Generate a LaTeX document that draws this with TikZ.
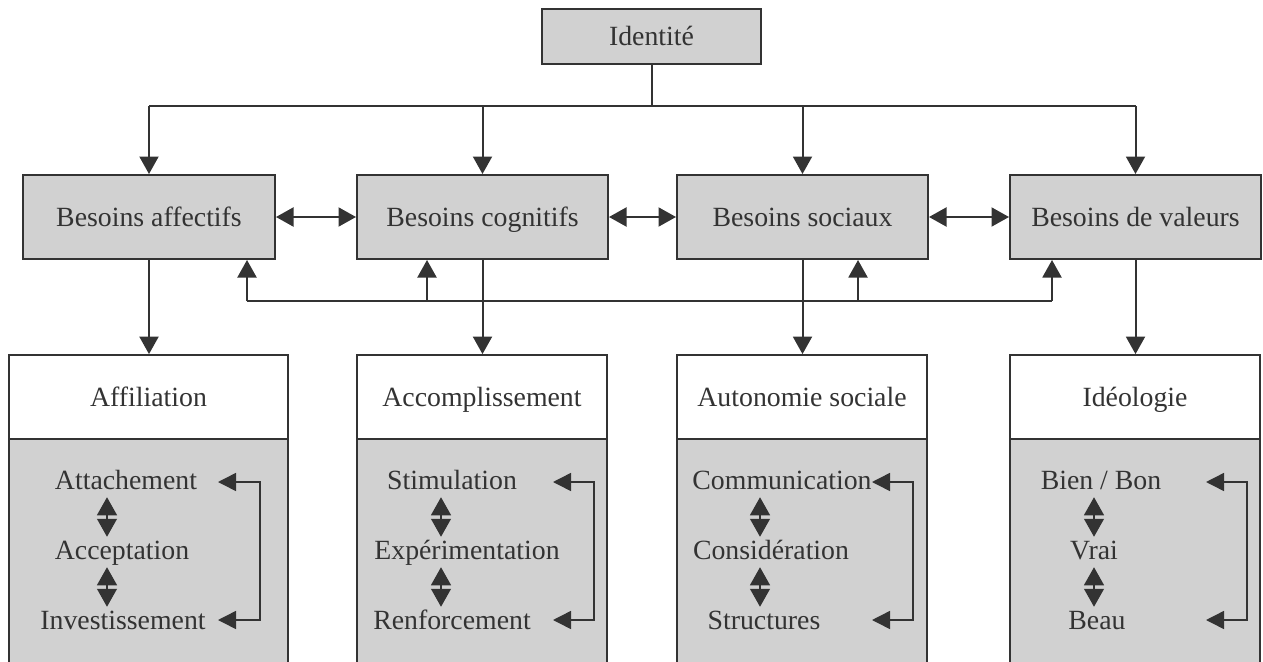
\documentclass[tikz,border=0pt]{standalone}
\usepackage{fontspec}
\setmainfont{Liberation Serif}
\usepackage{tikz}
\usetikzlibrary{arrows.meta}
\usetikzlibrary{calc}
\definecolor{ink}{HTML}{333333}
\definecolor{boxgray}{HTML}{D1D1D1}
\tikzstyle{need} = [draw=ink, fill=boxgray, rectangle, line width=2pt,
    inner sep=0pt, minimum height=84pt, minimum width=251pt]
\tikzstyle{head} = [draw=ink, fill=white, rectangle, line width=1.8pt,
    inner sep=0pt, minimum height=84pt, minimum width=250pt]
\tikzstyle{body} = [draw=ink, fill=boxgray, rectangle, line width=1.8pt,
    inner sep=0pt, minimum height=262pt, minimum width=250pt]
\tikzstyle{item} = [inner sep=0pt]
\tikzstyle{twin} = [<->, line width=1.2pt, shorten <=7pt, shorten >=3pt,
    >={Triangle[length=18pt,width=20pt]}]
\tikzstyle{back} = [<->, line width=1.5pt, >={Triangle[length=18pt,width=18pt]}]

\begin{document}
\begin{tikzpicture}[x=1pt, y=-1pt, >={Triangle[length=17.5pt,width=19pt]},
    color=ink, line width=2pt,
    every node/.style={font=\fontsize{27.8}{33}\selectfont, text=ink,
      text height=18.5pt, text depth=0pt}]
    \useasboundingbox (0,0) rectangle (1263,661);
    \clip (0,0) rectangle (1263,661);
    % top
    \node [need, minimum width=219pt, minimum height=55pt] at (651.5,36.5) (id) {Identité};
    \coordinate (bus) at (0,106);
    % besoins
    \node [need, minimum width=252pt] at (149,217) (aff) {Besoins affectifs};
    \node [need] at (482.5,217) (cog) {Besoins cognitifs};
    \node [need] at (802.5,217) (soc) {Besoins sociaux};
    \node [need] at (1135.5,217) (val) {Besoins de valeurs};
    % lower boxes
    \node [body, minimum width=279pt] at (148.5,570) (affilb) {};
    \node [body] at (482,570) (accb) {};
    \node [body] at (802,570) (autb) {};
    \node [body] at (1135,570) (ideob) {};
    \node [head, minimum width=279pt] at (148.5,397) (affil) {Affiliation};
    \node [head] at (482,397) (acc) {Accomplissement};
    \node [head] at (802,397) (aut) {Autonomie sociale};
    \node [head] at (1135,397) (ideo) {Idéologie};
    % items
    \node [item] at (126,480) (att) {Attachement};
    \node [item] at (122,550) (accep) {Acceptation};
    \node [item] at (123,620) (inv) {Investissement};
    \node [item] at (452,480) (stim) {Stimulation};
    \node [item] at (467,550) (exper) {Expérimentation};
    \node [item] at (452,620) (renf) {Renforcement};
    \node [item] at (782,480) (comm) {Communication};
    \node [item] at (771,550) (consid) {Considération};
    \node [item] at (764,620) (struct) {Structures};
    \node [item] at (1101,480) (bien) {Bien / Bon};
    \node [item] at (1094,550) (vrai) {Vrai};
    \node [item] at (1097,620) (beau) {Beau};
    % identite to besoins
    \draw (id.south) -- (id.south |- bus);
    \draw (aff |- bus) -- (val |- bus);
    \draw [->] (aff |- bus) -- (aff.north);
    \draw [->] (cog |- bus) -- (cog.north);
    \draw [->] (soc |- bus) -- (soc.north);
    \draw [->] (val |- bus) -- (val.north);
    \draw [<->] (aff) -- (cog);
    \draw [<->] (cog) -- (soc);
    \draw [<->] (soc) -- (val);
    % feedback
    \coordinate (fb1) at (247,301);
    \coordinate (fb2) at (427,301);
    \coordinate (fb3) at (858,301);
    \coordinate (fb4) at (1052,301);
    \draw (fb1) -- (fb4);
    \draw [->] (fb1) -- (fb1 |- aff.south);
    \draw [->] (fb2) -- (fb2 |- cog.south);
    \draw [->] (fb3) -- (fb3 |- soc.south);
    \draw [->] (fb4) -- (fb4 |- val.south);
    % besoins to lower boxes
    \draw [->] (aff.south) -- (aff.south |- affil.north);
    \draw [->] (cog.south) -- (cog.south |- acc.north);
    \draw [->] (soc.south) -- (soc.south |- aut.north);
    \draw [->] (val.south) -- (val.south |- ideo.north);
    % inner arrows
    \coordinate (c1) at (107,0);
    \coordinate (c2) at (441,0);
    \coordinate (c3) at (760,0);
    \coordinate (c4) at (1094,0);
    \draw [twin] (att.south -| c1) -- (accep.north -| c1);
    \draw [twin] (accep.south -| c1) -- (inv.north -| c1);
    \draw [twin] (stim.south -| c2) -- (exper.north -| c2);
    \draw [twin] (exper.south -| c2) -- (renf.north -| c2);
    \draw [twin] (comm.south -| c3) -- (consid.north -| c3);
    \draw [twin] (consid.south -| c3) -- (struct.north -| c3);
    \draw [twin] (bien.south -| c4) -- (vrai.north -| c4);
    \draw [twin] (vrai.south -| c4) -- (beau.north -| c4);
    \coordinate (r1) at (218,482);
    \coordinate (r2) at (218,620);
    \coordinate (r3) at (553,482);
    \coordinate (r4) at (553,620);
    \coordinate (r5) at (872,482);
    \coordinate (r6) at (872,620);
    \coordinate (r7) at (1206,482);
    \coordinate (r8) at (1206,620);
    \draw [back] (r1) -- ++(42,0) |- (r2);
    \draw [back] (r3) -- ++(41,0) |- (r4);
    \draw [back] (r5) -- ++(41,0) |- (r6);
    \draw [back] (r7) -- ++(41,0) |- (r8);
\end{tikzpicture}
\end{document}
